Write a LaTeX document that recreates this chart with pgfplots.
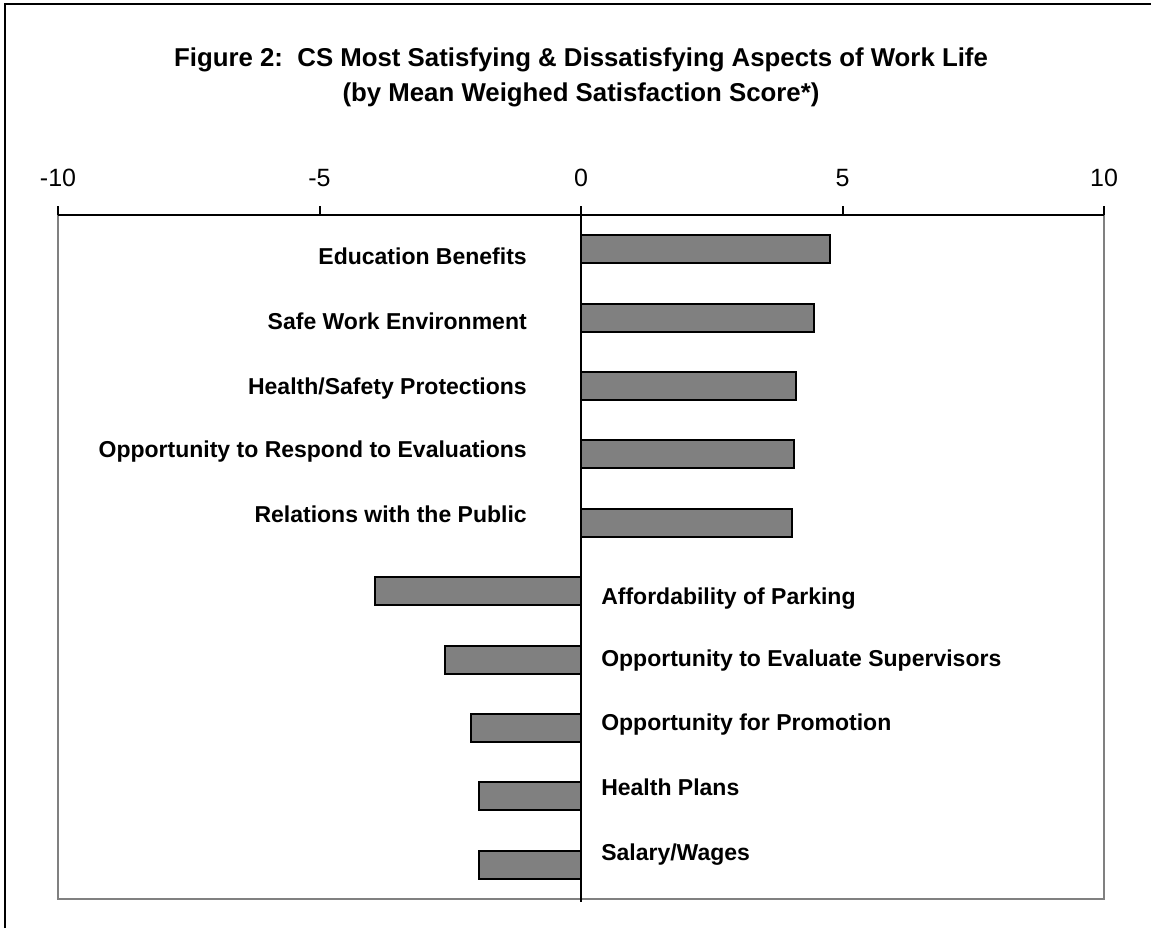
\documentclass[border=0pt]{standalone}
\usepackage{pgfplots}
\pgfplotsset{compat=1.18}
\usepackage{fontspec}
\setmainfont{Liberation Sans}
\definecolor{barfill}{HTML}{808080}
\definecolor{boxgray}{HTML}{808080}
\begin{document}
\begin{tikzpicture}[x=1pt,y=1pt]
\useasboundingbox (0,0) rectangle (575.5,464);
\draw[line width=1.3pt] (2.5,0) -- (2.5,462) -- (575.5,462);
\node[font=\bfseries\fontsize{12.9}{15}\selectfont, anchor=base] at (290.5,430.5) {Figure 2:\ \ CS Most Satisfying \& Dissatisfying Aspects of Work Life};
\node[font=\bfseries\fontsize{12.9}{15}\selectfont, anchor=base] at (290.5,413) {(by Mean Weighed Satisfaction Score*)};
\begin{axis}[
  at={(29pt,14.5pt)}, anchor=south west, scale only axis, width=523pt, height=342pt,
  xmin=-10, xmax=10, ymin=-0.5, ymax=9.5, y dir=reverse,
  xbar, bar width=14pt,
  xtick={-10,-5,0,5,10}, xticklabels={{-10},{-5},{0},{5},{10}},
  xtick pos=top, xticklabel pos=top, tick align=outside, major tick length=4.5pt,
  ytick=\empty,
  axis line style={draw=none},
  tick style={black, line width=1pt},
  xticklabel style={font=\fontsize{12.5}{14}\selectfont, yshift=6pt},
  clip=false,
]
\addplot[fill=barfill, draw=black, line width=1pt] coordinates {
 (4.76,0) (4.46,1) (4.11,2) (4.07,3) (4.03,4) (-3.94,5) (-2.60,6) (-2.10,7) (-1.95,8) (-1.95,9)};
\draw[boxgray, line width=1pt] (axis description cs:0,1) -- (axis description cs:0,0) -- (axis description cs:1,0) -- (axis description cs:1,1);
\draw[black, line width=1pt] (axis description cs:0,1) -- (axis description cs:1,1);
\draw[black, line width=1pt] (axis description cs:0.5,1) -- (axis description cs:0.5,-0.004);
\begin{scope}[every node/.style={font=\bfseries\fontsize{11.5}{13}\selectfont, inner sep=0pt}]
\node[anchor=base east] at (axis cs:-1.03,0.23) {Education Benefits};
\node[anchor=base east] at (axis cs:-1.03,1.17) {Safe Work Environment};
\node[anchor=base east] at (axis cs:-1.03,2.13) {Health/Safety Protections};
\node[anchor=base east] at (axis cs:-1.03,3.04) {Opportunity to Respond to Evaluations};
\node[anchor=base east] at (axis cs:-1.03,4.00) {Relations with the Public};
\node[anchor=base west] at (axis cs:0.38,5.19) {Affordability of Parking};
\node[anchor=base west] at (axis cs:0.38,6.10) {Opportunity to Evaluate Supervisors};
\node[anchor=base west] at (axis cs:0.38,7.04) {Opportunity for Promotion};
\node[anchor=base west] at (axis cs:0.38,7.99) {Health Plans};
\node[anchor=base west] at (axis cs:0.38,8.93) {Salary/Wages};
\end{scope}
\end{axis}
\end{tikzpicture}
\end{document}
